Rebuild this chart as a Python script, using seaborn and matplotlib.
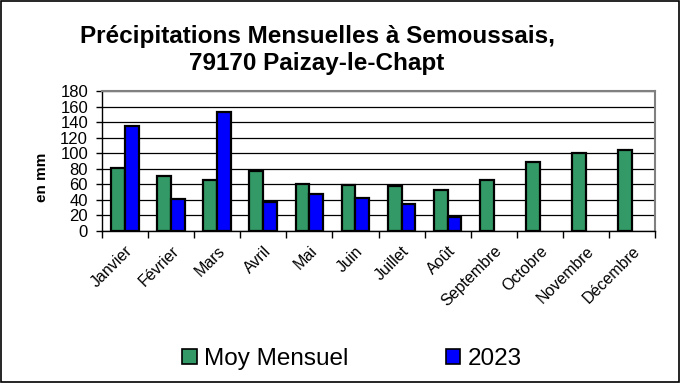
import matplotlib
matplotlib.use("Agg")
import matplotlib.pyplot as plt
import seaborn as sns
import pandas as pd
import numpy as np
from matplotlib.patches import Patch, Rectangle
from matplotlib.ticker import FixedLocator, MultipleLocator

months = ["Janvier", "Février", "Mars", "Avril", "Mai", "Juin", "Juillet",
          "Août", "Septembre", "Octobre", "Novembre", "Décembre"]
moy_mensuel = [81, 71, 66, 77, 61, 59, 58, 53, 66, 89, 100, 104]
annee_2023 = [135, 41, 153, 37, 47, 42, 35, 18, np.nan, np.nan, np.nan, np.nan]
series_names = ["Moy Mensuel", "2023"]
colors = ["#339966", "#0000FF"]

df = pd.DataFrame({
    "Mois": months * 2,
    "Valeur": moy_mensuel + annee_2023,
    "Série": [series_names[0]] * 12 + [series_names[1]] * 12,
})

sns.set_style("white")
plt.rcParams["font.family"] = ["Liberation Sans", "DejaVu Sans"]
for k in ["text.color", "axes.labelcolor", "xtick.color", "ytick.color"]:
    plt.rcParams[k] = "black"

fig = plt.figure(figsize=(6.8, 3.83), dpi=100)
ax = fig.add_axes([102 / 680, 1 - 231 / 383, (655 - 102) / 680, (231 - 91) / 383])

sns.barplot(data=df, x="Mois", y="Valeur", hue="Série", order=months,
            hue_order=series_names, palette=colors, width=0.6, saturation=1,
            edgecolor="black", linewidth=1.6, ax=ax, legend=False, errorbar=None,
            zorder=3)

ax.set_ylim(0, 180)
ax.set_xlim(-0.5, 11.5)
ax.yaxis.set_major_locator(MultipleLocator(20))
ax.grid(axis="y", color="black", linewidth=0.9, zorder=0)
ax.set_axisbelow(True)

for s in ["top", "right"]:
    ax.spines[s].set_color("#808080")
    ax.spines[s].set_linewidth(1.5)
for s in ["left", "bottom"]:
    ax.spines[s].set_color("black")
    ax.spines[s].set_linewidth(1.0)

ax.tick_params(axis="y", labelsize=12, length=4, width=1, direction="out",
               left=True, pad=6, colors="black")
ax.xaxis.set_minor_locator(FixedLocator(np.arange(-0.5, 12, 1)))
ax.tick_params(axis="x", which="minor", length=5, width=1, bottom=True, direction="out")
ax.tick_params(axis="x", which="major", length=0, labelsize=11.5, pad=9, colors="black")
for lab in ax.get_xticklabels():
    lab.set_rotation(45)
    lab.set_ha("right")
    lab.set_rotation_mode("anchor")

ax.set_xlabel("")
ax.set_ylabel("")
fig.text(42 / 680, 1 - 177 / 383, "en mm", rotation=90, ha="center", va="center",
         fontsize=11, fontweight="bold")

fig.text(317 / 680, 1 - 50 / 383, "Précipitations Mensuelles à Semoussais,\n79170 Paizay-le-Chapt",
         ha="center", va="center", fontsize=17.5, fontweight="bold", linespacing=1.25)

handles = [Patch(facecolor=c, edgecolor="black", linewidth=1.2) for c in colors]
fig.legend(handles, series_names, loc="center", bbox_to_anchor=(352 / 680, 1 - 359 / 383),
           ncol=2, frameon=False, fontsize=17.5, handlelength=0.6, handleheight=0.6,
           handletextpad=0.3, columnspacing=4.0)

fig.add_artist(Rectangle((0.001, 0.002), 0.997, 0.996, transform=fig.transFigure,
                         fill=False, edgecolor="black", linewidth=1.2))

fig.savefig("out.png", dpi=100, facecolor="white")
